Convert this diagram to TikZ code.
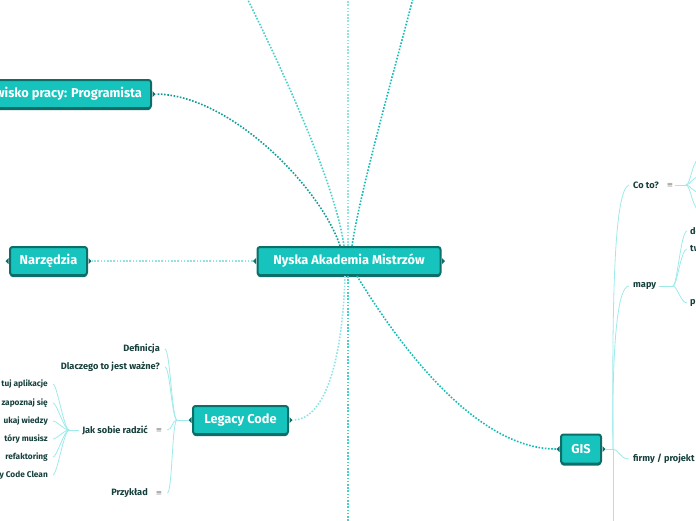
\documentclass[tikz,border=0pt]{standalone}
\usepackage{fontspec}
\setmainfont{Fira Sans}
\newfontfamily\symfont{DejaVu Sans}
\usetikzlibrary{positioning,calc}
\definecolor{topicFill}{HTML}{17C4BD}
\definecolor{topicEdge}{HTML}{0C6E69}
\definecolor{leafText}{HTML}{163F3C}
\definecolor{linkDark}{HTML}{0F9E96}
\definecolor{linkStrong}{HTML}{12BDB5}
\definecolor{linkMid}{HTML}{45D0C9}
\definecolor{linkLight}{HTML}{8FE4E4}
\definecolor{twigLine}{HTML}{9EEAEA}

\begin{document}
\begin{tikzpicture}[x=1pt, y=-1pt,
    topic/.style={draw=topicEdge, line width=2pt, fill=topicFill, rounded corners=2.5pt, text=white,
      font=\bfseries\fontsize{12.8}{15}\selectfont, minimum height=28pt, inner xsep=9pt,
      preaction={fill=topicEdge, transform canvas={yshift=-2pt}}},
    leaf/.style={font=\bfseries\fontsize{9.2}{11}\selectfont, text=leafText, inner sep=0pt},
    subleaf/.style={leaf, font=\bfseries\fontsize{8.3}{10}\selectfont},
    menu/.style={font=\symfont\fontsize{7.5}{9}\selectfont, text=gray, inner sep=0pt},
    link/.style={line width=1.6pt, dash pattern=on 1.6pt off 1.6pt},
    twig/.style={draw=twigLine, line width=0.8pt}]
  \useasboundingbox (0,0) rectangle (696,520);
  \clip (0,0) rectangle (696,520);
  % main topics
  \node[topic, minimum width=183pt] (c) at (349,261) {Nyska Akademia Mistrzów};
  \node[topic, anchor=east] (prac) at (152,94) {Stanowisko pracy: Programista};
  \node[topic, minimum width=77pt] (narz) at (48.5,261) {Narzędzia};
  \node[topic, minimum width=95pt] (leg) at (240.5,420) {Legacy Code};
  \node[topic, minimum width=40pt, minimum height=29pt] (gis) at (581,449) {GIS};
  \foreach \n in {c,narz,leg,gis} {
    \fill[topicEdge] (\n.east) ++(0.5pt,-3pt) -- ++(3pt,3pt) -- ++(-3pt,3pt) -- cycle;
    \fill[topicEdge] (\n.west) ++(-0.5pt,-3pt) -- ++(-3pt,3pt) -- ++(3pt,3pt) -- cycle;
  }
  \fill[topicEdge] (prac.east) ++(0.5pt,-3pt) -- ++(3pt,3pt) -- ++(-3pt,3pt) -- cycle;
  % links out of the centre
  \coordinate (upL) at (247,-2);
  \coordinate (upM) at (348,-2);
  \coordinate (upR) at (413,-2);
  \coordinate (down) at (348,522);
  \draw[link, draw=linkMid] ([xshift=-5pt]c.north) .. controls (335,180) and (275,55) .. (upL);
  \draw[link, draw=linkLight] ([xshift=-1pt]c.north) -- (upM);
  \draw[link, draw=linkStrong] ([xshift=3pt]c.north) .. controls (360,190) and (400,50) .. (upR);
  \draw[link, draw=linkDark] ([xshift=-9pt]c.north) .. controls (322,190) and (232,95) .. ([xshift=4pt]prac.east);
  \draw[link, draw=linkLight] ([xshift=-4pt]c.west) -- ([xshift=4pt]narz.east);
  \draw[link, draw=linkLight] ([xshift=-4pt]c.south) .. controls (342,370) and (322,420) .. ([xshift=4pt]leg.east);
  \draw[link, draw=linkMid] ([xshift=-1pt]c.south) -- (down);
  \draw[link, draw=linkStrong] ([xshift=8pt]c.south) .. controls (390,330) and (470,449) .. ([xshift=-4pt]gis.west);
  % Legacy Code
  \node[leaf, anchor=east] (def) at (160,349) {Definicja};
  \node[leaf, anchor=east] (why) at (160,367) {Dlaczego to jest ważne?};
  \node[leaf, anchor=east] (jak) at (148,430) {Jak sobie radzić};
  \node[menu] (jakm) at (159,430) {≡};
  \node[leaf, anchor=east] (ex) at (148,493) {Przykład};
  \node[menu] (exm) at (159,493) {≡};
  \coordinate (legfork) at ($(leg.west)+(-15pt,0)$);
  \draw[twig] ([xshift=-3pt]leg.west) -- (legfork);
  \foreach \k in {def,why,jakm,exm}
    \draw[twig] (legfork) .. controls ($(legfork)+(-5pt,0)$) and ($(\k.east)+(10pt,0)$) .. ($(\k.east)+(5pt,0)$);
  % Jak sobie radzić
  \foreach \t/\y [count=\i] in {tuj aplikacje/384, zapoznaj się/403, ukaj wiedzy/421, tóry musisz/439, refaktoring/457, y Code Clean/475}
    \node[subleaf, anchor=east] (j\i) at (48,\y) {\t};
  \coordinate (jakfork) at ($(jak.west)+(-13pt,0)$);
  \draw[twig] ([xshift=-3pt]jak.west) -- (jakfork);
  \foreach \i in {1,...,6}
    \draw[twig] (jakfork) .. controls ($(jakfork)+(-5pt,0)$) and ($(j\i.east)+(9pt,0)$) .. ($(j\i.east)+(5pt,0)$);
  % GIS
  \node[leaf, anchor=west] (cot) at (633,185) {Co to?};
  \node[menu] (cotm) at (670,185) {≡};
  \node[leaf, anchor=west] (mapy) at (633,286) {mapy};
  \node[leaf, anchor=west] (firmy) at (633,459) {firmy / projekt};
  \coordinate (gisfork) at (613,449);
  \coordinate (gisdown) at (613,522);
  \draw[twig] ([xshift=3pt]gis.east) -- (gisfork);
  \draw[twig] (gisfork) .. controls (612,300) and (614,190) .. ([xshift=-4pt]cot.west);
  \draw[twig] (gisfork) .. controls (612,360) and (616,286) .. ([xshift=-4pt]mapy.west);
  \draw[twig] (gisfork) .. controls (618,449) and (620,459) .. ([xshift=-4pt]firmy.west);
  \draw[twig] (gisfork) -- (gisdown);
  % Co to?
  \coordinate (cotfork) at (686,185);
  \draw[twig] ([xshift=5pt]cotm.center) -- (cotfork);
  \foreach \y [count=\i] in {157,176,193,212} {
    \coordinate (cot\i) at (702,\y);
    \draw[twig] (cotfork) .. controls (691,185) and (692,\y) .. (cot\i);
  }
  % mapy
  \coordinate (mapfork) at (673,286);
  \draw[twig] ([xshift=3pt]mapy.east) -- (mapfork);
  \foreach \t/\y [count=\i] in {de/231, tw/249, pr/303} {
    \node[leaf, anchor=west] (m\i) at (690,\y) {\t};
    \draw[twig] (mapfork) .. controls ($(mapfork)+(4pt,0)$) and ($(m\i.west)+(-9pt,0)$) .. ($(m\i.west)+(-3pt,0)$);
  }
\end{tikzpicture}
\end{document}
